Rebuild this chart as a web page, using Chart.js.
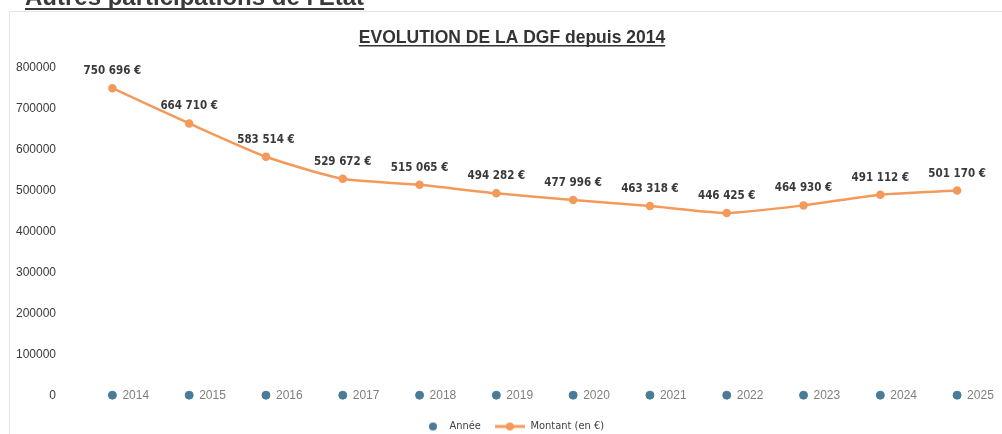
<!DOCTYPE html>
<html>
<head>
<meta charset="utf-8">
<script src="https://cdn.jsdelivr.net/npm/chart.js@4"></script>
<style>
  html, body { margin: 0; padding: 0; background: #fff; }
  #wrap { position: relative; width: 1002px; height: 434px; }
</style>
</head>
<body>
<div id="wrap"><canvas id="graf" width="1002" height="434"></canvas></div>
<script>
// données
const annees = ['2014', '2015', '2016', '2017', '2018', '2019', '2020', '2021', '2022', '2023', '2024', '2025'];
const serieAnnee = [2014, 2015, 2016, 2017, 2018, 2019, 2020, 2021, 2022, 2023, 2024, 2025];
const montants = [750696, 664710, 583514, 529672, 515065, 494282, 477996, 463318, 446425, 464930, 491112, 501170];
const etiquettesMontant = ['750 696 €', '664 710 €', '583 514 €', '529 672 €', '515 065 €', '494 282 €', '477 996 €', '463 318 €', '446 425 €', '464 930 €', '491 112 €', '501 170 €'];
const graduationsY = [0, 100000, 200000, 300000, 400000, 500000, 600000, 700000, 800000];

const ORANGE = '#f39a5b';
const BLEU = '#4a7c98';

// petites images pour la légende
function iconePoint() {
  const c = document.createElement('canvas');
  c.width = 30; c.height = 10;
  const g = c.getContext('2d');
  g.fillStyle = BLEU;
  g.beginPath(); g.arc(19, 5, 4, 0, Math.PI * 2); g.fill();
  return c;
}
function iconeLigne() {
  const c = document.createElement('canvas');
  c.width = 30; c.height = 10;
  const g = c.getContext('2d');
  g.strokeStyle = ORANGE; g.lineWidth = 3;
  g.beginPath(); g.moveTo(0, 5); g.lineTo(30, 5); g.stroke();
  g.fillStyle = ORANGE;
  g.beginPath(); g.arc(15, 5, 4, 0, Math.PI * 2); g.fill();
  return c;
}

const decor = {
  id: 'decor',
  afterLayout(chart) {
    // la légende est un peu décalée vers la droite dans l'original
    const L = chart.legend;
    if (L) { L.left += 9; L.right += 9; L.adjustHitBoxes(); }
  },
  beforeDraw(chart) {
    const ctx = chart.ctx;
    ctx.save();
    // cadre léger
    ctx.strokeStyle = '#e4e4e4';
    ctx.lineWidth = 1;
    ctx.strokeRect(9.5, 11.5, 1100, 500);
    // titre de section coupé en haut
    ctx.fillStyle = '#3a3a3a';
    ctx.font = 'bold 24px "Liberation Sans", Arial, sans-serif';
    ctx.textBaseline = 'alphabetic';
    const t = "Autres participations de l'Etat";
    ctx.fillText(t, 25, 5);
    const wt = ctx.measureText(t).width;
    ctx.fillRect(25, 8, wt, 2);
    // titre du graphique
    ctx.font = 'bold 17.5px "Liberation Sans", Arial, sans-serif';
    ctx.textAlign = 'center';
    const titre = 'EVOLUTION DE LA DGF depuis 2014';
    ctx.fillStyle = '#333';
    ctx.fillText(titre, 512, 43);
    const w = ctx.measureText(titre).width;
    ctx.fillRect(512 - w / 2, 45, w, 1.5);
    ctx.restore();
  },
  afterDatasetsDraw(chart) {
    const ctx = chart.ctx;
    ctx.save();
    // étiquettes des années
    const m0 = chart.getDatasetMeta(0);
    ctx.font = '12px "Liberation Sans", Arial, sans-serif';
    ctx.fillStyle = '#7f7f7f';
    ctx.textAlign = 'left';
    ctx.textBaseline = 'middle';
    m0.data.forEach((p, i) => ctx.fillText(annees[i], p.x + 10, p.y + 1));
    // étiquettes des montants
    const m1 = chart.getDatasetMeta(1);
    ctx.font = 'bold 11.5px "DejaVu Sans Condensed", "Liberation Sans Narrow", sans-serif';
    ctx.fillStyle = '#3a3a3a';
    ctx.textAlign = 'center';
    ctx.textBaseline = 'middle';
    m1.data.forEach((p, i) => ctx.fillText(etiquettesMontant[i], p.x, p.y - 17));
    ctx.restore();
  }
};

new Chart(document.getElementById('graf'), {
  type: 'line',
  data: {
    labels: annees,
    datasets: [
      {
        label: 'Année',
        data: serieAnnee,
        showLine: false,
        pointRadius: 4,
        pointHoverRadius: 4,
        pointBackgroundColor: BLEU,
        pointBorderColor: BLEU,
        backgroundColor: BLEU,
        borderColor: BLEU,
        clip: false,
        pointStyle: 'circle'
      },
      {
        label: 'Montant (en €)',
        data: montants,
        borderColor: ORANGE,
        backgroundColor: ORANGE,
        borderWidth: 2.5,
        pointRadius: 3,
        pointBackgroundColor: ORANGE,
        pointBorderColor: ORANGE,
        tension: 0.2,
        fill: false
      }
    ]
  },
  options: {
    responsive: false,
    animation: false,
    devicePixelRatio: 1,
    layout: { padding: { top: 68, right: 2, left: 0, bottom: -8 } },
    plugins: {
      title: { display: false },
      tooltip: { enabled: false },
      legend: {
        position: 'bottom',
        labels: {
          usePointStyle: true,
          pointStyleWidth: 30,
          boxHeight: 10,
          padding: 14,
          color: '#404040',
          font: { family: '"DejaVu Sans Condensed", "Liberation Sans", sans-serif', size: 11 },
          generateLabels(chart) {
            const base = Chart.defaults.plugins.legend.labels.generateLabels(chart);
            base[0].pointStyle = iconePoint();
            base[1].pointStyle = iconeLigne();
            return base;
          }
        }
      }
    },
    scales: {
      x: {
        offset: true,
        afterFit(s) { s.height = 11; },
        grid: { display: false },
        border: { display: false },
        ticks: { display: false }
      },
      y: {
        min: 0,
        max: 800000,
        afterFit(s) { s.width = 74; },
        afterBuildTicks(s) { s.ticks = graduationsY.map(v => ({ value: v })); },
        grid: { display: false },
        border: { display: false },
        ticks: {
          padding: 10,
          color: '#3a3a3a',
          font: { family: '"Liberation Sans", Arial, sans-serif', size: 12 },
          callback: v => String(v)
        }
      }
    }
  },
  plugins: [decor]
});
</script>
</body>
</html>
